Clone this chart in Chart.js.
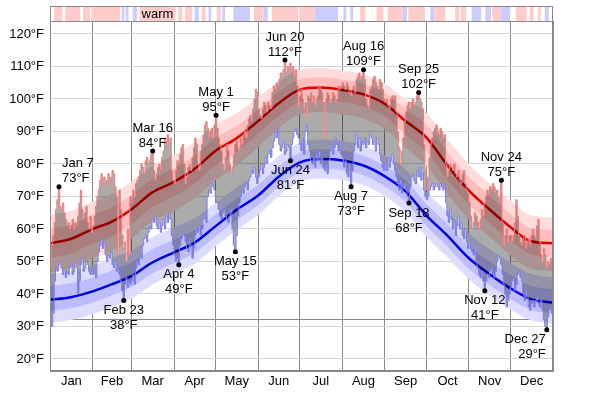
<!DOCTYPE html>
<html>
<head>
<meta charset="utf-8">
<script src="https://cdn.jsdelivr.net/npm/chart.js@4.4.1/dist/chart.umd.min.js"></script>
<style>
  html, body { margin: 0; padding: 0; background: #fff; }
</style>
</head>
<body>
<canvas id="chart" width="600" height="394"></canvas>
<script>
;(() => {
  const months = ['Jan', 'Feb', 'Mar', 'Apr', 'May', 'Jun', 'Jul', 'Aug', 'Sep', 'Oct', 'Nov', 'Dec']
  const monthStarts = [0, 31, 59, 90, 120, 151, 181, 212, 243, 273, 304, 334, 365]
  const yTicks = [20, 30, 40, 50, 60, 70, 80, 90, 100, 110, 120]
  const freezing = 32

  // daily high / low, one line per month
  const dailyHigh = [
    48, 55, 58, 62, 66, 69, 73, 67, 66, 68, 65, 63, 61, 62, 60, 61, 63, 60, 62, 61, 64, 68, 72, 66, 63, 65, 67, 62, 60, 64, 59,
    61, 64, 67, 70, 72, 75, 77, 74, 76, 73, 75, 77, 74, 76, 78, 77, 73, 70, 52, 72, 66, 58, 54, 56, 50, 60, 52, 70,
    68, 72, 70, 74, 75, 76, 78, 80, 79, 77, 81, 82, 80, 81, 83, 84, 78, 75, 77, 79, 80, 78, 82, 84, 88, 87, 89, 86, 88, 78, 75,
    74, 78, 81, 80, 83, 85, 86, 80, 74, 76, 79, 80, 78, 82, 85, 88, 86, 80, 78, 84, 86, 89, 92, 93, 91, 88, 90, 91, 88, 92,
    95, 91, 88, 86, 84, 80, 78, 82, 86, 84, 80, 77, 79, 83, 86, 87, 85, 84, 88, 86, 89, 90, 88, 92, 94, 95, 93, 97, 100, 103, 102,
    97, 95, 94, 97, 99, 98, 96, 99, 98, 97, 102, 104, 103, 105, 104, 106, 108, 107, 109, 112, 108, 110, 109, 111, 108, 110, 107, 109, 104, 98,
    101, 103, 100, 97, 99, 94, 101, 100, 102, 99, 101, 98, 100, 101, 104, 103, 102, 99, 88, 100, 102, 101, 99, 100, 102, 101, 99, 100, 104, 103, 104,
    105, 104, 103, 105, 104, 102, 101, 103, 104, 102, 106, 107, 108, 106, 107, 109, 106, 100, 98, 97, 103, 104, 106, 107, 105, 104, 103, 106, 105, 103, 100,
    99, 100, 98, 97, 100, 101, 100, 101, 96, 90, 85, 80, 84, 88, 93, 96, 98, 99, 97, 99, 100, 98, 99, 101, 102, 100, 99, 97, 86, 78,
    72, 76, 82, 86, 88, 90, 91, 92, 90, 89, 91, 90, 88, 89, 80, 76, 78, 80, 79, 78, 80, 77, 76, 78, 75, 74, 77, 78, 74, 72, 71,
    68, 64, 60, 62, 65, 64, 62, 60, 63, 66, 64, 68, 70, 72, 71, 73, 72, 74, 73, 71, 72, 70, 68, 75, 62, 55, 58, 60, 56, 58,
    58, 56, 58, 62, 69, 64, 58, 56, 55, 57, 58, 54, 56, 57, 55, 58, 60, 58, 57, 61, 63, 56, 52, 50, 54, 52, 48, 50, 49, 51, 50
  ]
  const dailyLow = [
    31, 30, 34, 44, 48, 47, 49, 50, 48, 46, 47, 45, 47, 46, 48, 49, 46, 47, 50, 48, 40, 44, 49, 51, 47, 48, 50, 49, 47, 46, 48,
    46, 47, 45, 50, 53, 55, 57, 54, 56, 52, 50, 52, 51, 53, 49, 48, 50, 47, 48, 46, 44, 41, 38, 43, 45, 42, 44, 43,
    44, 46, 43, 48, 50, 49, 52, 51, 55, 57, 58, 56, 59, 61, 60, 63, 62, 64, 61, 60, 62, 59, 61, 63, 60, 64, 62, 65, 63, 58, 55,
    52, 50, 51, 49, 55, 57, 59, 58, 56, 54, 53, 57, 55, 51, 54, 58, 60, 59, 61, 58, 60, 63, 65, 62, 70, 72, 71, 74, 73, 72,
    70, 68, 66, 64, 63, 65, 66, 64, 63, 62, 64, 66, 60, 55, 53, 58, 64, 68, 70, 72, 71, 73, 74, 72, 75, 76, 78, 77, 79, 76, 74,
    76, 78, 80, 77, 79, 82, 80, 83, 84, 82, 85, 87, 90, 88, 91, 86, 84, 85, 87, 83, 84, 86, 85, 81, 86, 88, 90, 91, 89, 88,
    86, 84, 88, 83, 90, 92, 86, 84, 81, 80, 82, 79, 83, 81, 84, 80, 82, 79, 78, 80, 77, 81, 84, 86, 83, 85, 88, 86, 84, 87, 83,
    82, 79, 81, 77, 76, 80, 73, 78, 84, 86, 89, 85, 88, 84, 87, 86, 88, 85, 87, 86, 89, 88, 86, 87, 84, 88, 86, 83, 81, 79, 78,
    80, 78, 82, 79, 81, 83, 80, 78, 76, 74, 72, 75, 71, 73, 74, 72, 70, 68, 73, 76, 77, 75, 74, 78, 76, 79, 75, 77, 72, 70,
    69, 70, 72, 73, 74, 72, 73, 74, 73, 72, 74, 73, 72, 74, 68, 64, 62, 66, 63, 60, 62, 58, 61, 64, 60, 62, 58, 57, 60, 56, 54,
    56, 54, 53, 52, 55, 50, 48, 46, 45, 47, 44, 41, 44, 46, 45, 47, 48, 46, 45, 47, 50, 52, 51, 49, 46, 43, 40, 36, 38, 40,
    42, 44, 45, 41, 43, 46, 47, 45, 44, 40, 38, 41, 39, 36, 35, 37, 38, 36, 38, 39, 37, 36, 38, 35, 32, 30, 29, 33, 35, 36, 34
  ]

  // averages and percentile bands, sampled about twice a month
  const bandDays = [0, 15, 31, 45, 59, 74, 90, 105, 120, 135, 151, 166, 181, 196, 212, 227, 243, 258, 273, 288, 304, 319, 334, 349, 365]
  const avgHigh = [55.6, 56.9, 60.0, 62.3, 66.0, 71.2, 74.5, 78.5, 84.0, 87.8, 93.2, 98.7, 102.8, 103.5, 102.8, 101.5, 98.5, 93.2, 88.2, 79.8, 71.8, 66.0, 60.6, 56.2, 55.6]
  const highP90 = [64.3, 65.5, 68.5, 70.8, 74.5, 79.5, 82.8, 86.8, 92.0, 95.5, 100.5, 105.3, 109.0, 109.5, 108.8, 107.6, 104.8, 100.0, 95.8, 87.8, 80.0, 74.0, 68.8, 64.2, 63.5]
  const highP75 = [60.1, 61.4, 64.4, 66.7, 70.4, 75.4, 78.8, 82.7, 88.0, 91.6, 96.8, 102.2, 106.1, 106.7, 106.0, 104.8, 101.9, 96.9, 92.2, 84.0, 75.9, 70.1, 64.7, 60.2, 59.6]
  const highP25 = [51.1, 52.4, 55.5, 57.8, 61.5, 66.7, 70.0, 74.0, 79.5, 83.5, 89.2, 94.8, 99.0, 99.8, 99.1, 97.8, 94.6, 89.0, 83.8, 75.4, 67.5, 61.8, 56.5, 52.2, 51.4]
  const highP10 = [46.6, 47.9, 51.0, 53.3, 57.0, 62.2, 65.5, 69.5, 75.0, 79.3, 85.2, 91.0, 95.3, 96.0, 95.3, 94.0, 90.8, 85.0, 79.5, 71.0, 63.0, 57.5, 52.1, 47.8, 47.1]
  const avgLow = [38.2, 39.0, 40.8, 43.0, 45.5, 49.6, 52.8, 55.8, 60.8, 65.8, 70.3, 76.1, 80.4, 81.5, 81.1, 79.6, 76.2, 71.6, 64.2, 58.1, 51.0, 46.1, 41.8, 38.4, 37.3]
  const lowP90 = [46.2, 47.0, 48.8, 51.0, 53.3, 57.4, 60.5, 63.3, 68.0, 72.8, 77.0, 82.5, 86.5, 87.5, 87.1, 85.8, 82.6, 78.4, 71.4, 65.5, 58.6, 53.8, 49.6, 46.2, 45.1]
  const lowP75 = [42.5, 43.3, 45.1, 47.3, 49.7, 53.7, 56.8, 59.7, 64.5, 69.3, 73.6, 79.3, 83.4, 84.5, 84.1, 82.7, 79.4, 75.0, 67.8, 61.8, 54.8, 50.0, 45.9, 42.5, 41.4]
  const lowP25 = [34.8, 35.6, 37.4, 39.6, 42.1, 46.2, 49.5, 52.6, 57.7, 62.7, 67.3, 73.1, 77.4, 78.5, 78.1, 76.6, 73.1, 68.4, 61.0, 54.8, 47.7, 42.8, 38.5, 35.1, 34.0]
  const lowP10 = [31.2, 32.0, 33.8, 36.0, 38.5, 42.8, 46.2, 49.3, 54.5, 59.6, 64.3, 70.1, 74.4, 75.5, 75.1, 73.6, 70.1, 65.3, 57.7, 51.5, 44.5, 39.6, 35.3, 31.9, 30.8]

  // labelled extremes
  const recordDates = ['Jan 7', 'Feb 23', 'Mar 16', 'Apr 4', 'May 1', 'May 15', 'Jun 20', 'Jun 24', 'Aug 7', 'Aug 16', 'Sep 18', 'Sep 25', 'Nov 12', 'Nov 24', 'Dec 27']
  const recordTemps = [73, 38, 84, 49, 95, 53, 112, 81, 73, 109, 68, 102, 41, 75, 29]
  const recordIsHigh = [true, false, true, false, true, false, true, false, false, true, false, true, false, true, false]

  // warm (1) / cold (-1) days strip: [first day, end day, kind]
  const stripSegments = [
    [3, 9, 1], [11, 22, 1], [24, 29, 1], [30, 51, 1], [52, 54, -1], [55, 57, -1], [60, 63, -1], [65, 91, 1],
    [93, 96, 1], [98, 103, 1], [105, 108, -1], [110, 113, 1], [115, 117, -1], [121, 124, 1], [125, 127, -1],
    [133, 145, -1], [148, 155, 1], [155, 158, -1], [161, 180, 1], [181, 192, 1], [192, 209, -1], [213, 215, -1],
    [218, 220, -1], [225, 229, 1], [237, 242, 1], [245, 256, 1], [256, 259, -1], [260, 272, 1], [276, 279, -1],
    [279, 287, 1], [294, 297, 1], [298, 302, 1], [306, 313, -1], [316, 320, -1], [321, 327, 1], [327, 334, -1],
    [338, 346, 1], [348, 351, 1], [354, 356, 1], [359, 362, -1]
  ]
  const stripText = 'warm'

  const FONT = '"Liberation Sans", Arial, sans-serif'
  Chart.defaults.font.family = FONT
  Chart.defaults.font.size = 13
  Chart.defaults.color = '#000'

  const dayOf = (s) => {
    const [m, d] = s.split(' ')
    return monthStarts[months.indexOf(m)] + Number(d) - 1
  }
  const stepPts = (vals) => vals.map((y, d) => ({ x: d, y })).concat([{ x: vals.length, y: vals[vals.length - 1] }])
  const curve = (vals) => vals.map((y, i) => ({ x: bandDays[i], y }))

  const band = (vals, color, target, order) => ({
    data: curve(vals),
    borderWidth: 0,
    pointRadius: 0,
    cubicInterpolationMode: 'monotone',
    backgroundColor: color,
    fill: target == null ? false : target,
    order
  })

  const xTickVals = []
  const xLabels = {}
  months.forEach((m, i) => {
    const mid = (monthStarts[i] + monthStarts[i + 1]) / 2
    xTickVals.push(monthStarts[i], mid)
    xLabels[mid] = m
  })
  xTickVals.push(365)

  const stripPlugin = {
    id: 'strip',
    afterDraw(chart) {
      const { ctx, chartArea: a, scales: { x } } = chart
      const h = 15
      const top = a.top - h
      ctx.save()
      let best = null
      stripSegments.forEach(([s, e, k]) => {
        const x0 = x.getPixelForValue(s)
        const x1 = x.getPixelForValue(e)
        ctx.fillStyle = k > 0 ? '#ffcccc' : '#ccccff'
        ctx.fillRect(x0, top, x1 - x0, h)
        if (k > 0 && (!best || e - s > best[1] - best[0])) best = [s, e]
      })
      ctx.strokeStyle = '#888'
      ctx.lineWidth = 1
      ctx.strokeRect(Math.round(a.left) + 0.5, top + 0.5, Math.round(a.right - a.left) - 1, h)
      ctx.strokeRect(Math.round(a.left) + 0.5, Math.round(a.top) + 0.5, Math.round(a.right - a.left) - 1, Math.round(a.bottom - a.top) - 1)
      if (best) {
        ctx.fillStyle = '#000'
        ctx.font = '13px ' + FONT
        ctx.textAlign = 'center'
        ctx.textBaseline = 'middle'
        ctx.fillText(stripText, (x.getPixelForValue(best[0]) + x.getPixelForValue(best[1])) / 2, top + h / 2 + 1)
      }
      ctx.restore()
    }
  }

  const recordPlugin = {
    id: 'records',
    afterDraw(chart) {
      const { ctx, chartArea: a } = chart
      const meta = chart.getDatasetMeta(13)
      ctx.save()
      ctx.font = '13px ' + FONT
      ctx.fillStyle = '#000'
      ctx.textBaseline = 'middle'
      meta.data.forEach((pt, i) => {
        const lines = [recordDates[i], recordTemps[i] + '°F']
        const w = Math.max(...lines.map((t) => ctx.measureText(t).width))
        let tx = pt.x
        ctx.textAlign = 'center'
        if (pt.x - w / 2 < a.left + 2) {
          ctx.textAlign = 'left'
          tx = pt.x + 3
        } else if (pt.x + w / 2 > a.right - 2) {
          ctx.textAlign = 'right'
          tx = pt.x - 1
        }
        const ys = recordIsHigh[i] ? [pt.y - 23, pt.y - 8] : [pt.y + 10, pt.y + 25]
        lines.forEach((t, j) => ctx.fillText(t, tx, ys[j]))
      })
      ctx.restore()
    }
  }

  const datasets = [
    band(highP90, '#ffdcdc', 1, 30),
    band(highP10, 'transparent', null, 29),
    band(lowP90, '#dcdcff', 3, 28),
    band(lowP10, 'transparent', null, 27),
    band(highP75, '#ffbcbc', 5, 26),
    band(highP25, 'transparent', null, 25),
    band(lowP75, '#bcbcff', 7, 24),
    band(lowP25, 'transparent', null, 23),
    {
      data: curve(avgHigh), borderColor: '#e00000', borderWidth: 2.5, pointRadius: 0,
      cubicInterpolationMode: 'monotone', fill: false, order: 12
    },
    {
      data: curve(avgLow), borderColor: '#0000e8', borderWidth: 2.5, pointRadius: 0,
      cubicInterpolationMode: 'monotone', fill: false, order: 11
    },
    {
      data: stepPts(dailyHigh), stepped: true, borderColor: '#f07c7c', borderWidth: 1, pointRadius: 0,
      backgroundColor: 'rgba(0,0,0,0.33)', fill: 11, order: 6
    },
    {
      data: stepPts(dailyLow), stepped: true, borderColor: '#7c7cf0', borderWidth: 1, pointRadius: 0,
      fill: false, order: 5
    },
    { data: [], order: 4 },
    {
      type: 'scatter',
      data: recordDates.map((d, i) => ({ x: dayOf(d) + 0.5, y: recordTemps[i] })),
      pointRadius: 2.5, pointBackgroundColor: '#000', pointBorderWidth: 0, order: 1
    }
  ]

  new Chart(document.getElementById('chart'), {
    type: 'line',
    data: { datasets },
    options: {
      responsive: false,
      animation: false,
      devicePixelRatio: 1,
      events: [],
      layout: { padding: { top: 21, right: 47, bottom: 0, left: 0 } },
      plugins: { legend: { display: false }, tooltip: { enabled: false } },
      scales: {
        x: {
          type: 'linear', min: 0, max: 365, z: 1,
          afterBuildTicks: (s) => { s.ticks = xTickVals.map((v) => ({ value: v })) },
          afterFit: (s) => { s.height = 23 },
          ticks: { autoSkip: false, maxRotation: 0, padding: 3, callback: (v) => xLabels[v] || '' },
          grid: { color: (c) => (monthStarts.includes(c.tick.value) ? '#888' : 'rgba(0,0,0,0)'), drawTicks: false },
          border: { color: '#888' }
        },
        y: {
          min: 16.3, max: 124, z: 1,
          afterBuildTicks: (s) => { s.ticks = [...yTicks, freezing].sort((a, b) => a - b).map((v) => ({ value: v })) },
          afterFit: (s) => { s.width = 50 },
          ticks: { padding: 6, callback: (v) => (v === freezing ? '' : v + '°F') },
          grid: { color: (c) => (c.tick.value === freezing ? '#888' : '#d4d4d4'), drawTicks: false },
          border: { color: '#888' }
        }
      }
    },
    plugins: [stripPlugin, recordPlugin]
  })
})()
</script>
</body>
</html>
